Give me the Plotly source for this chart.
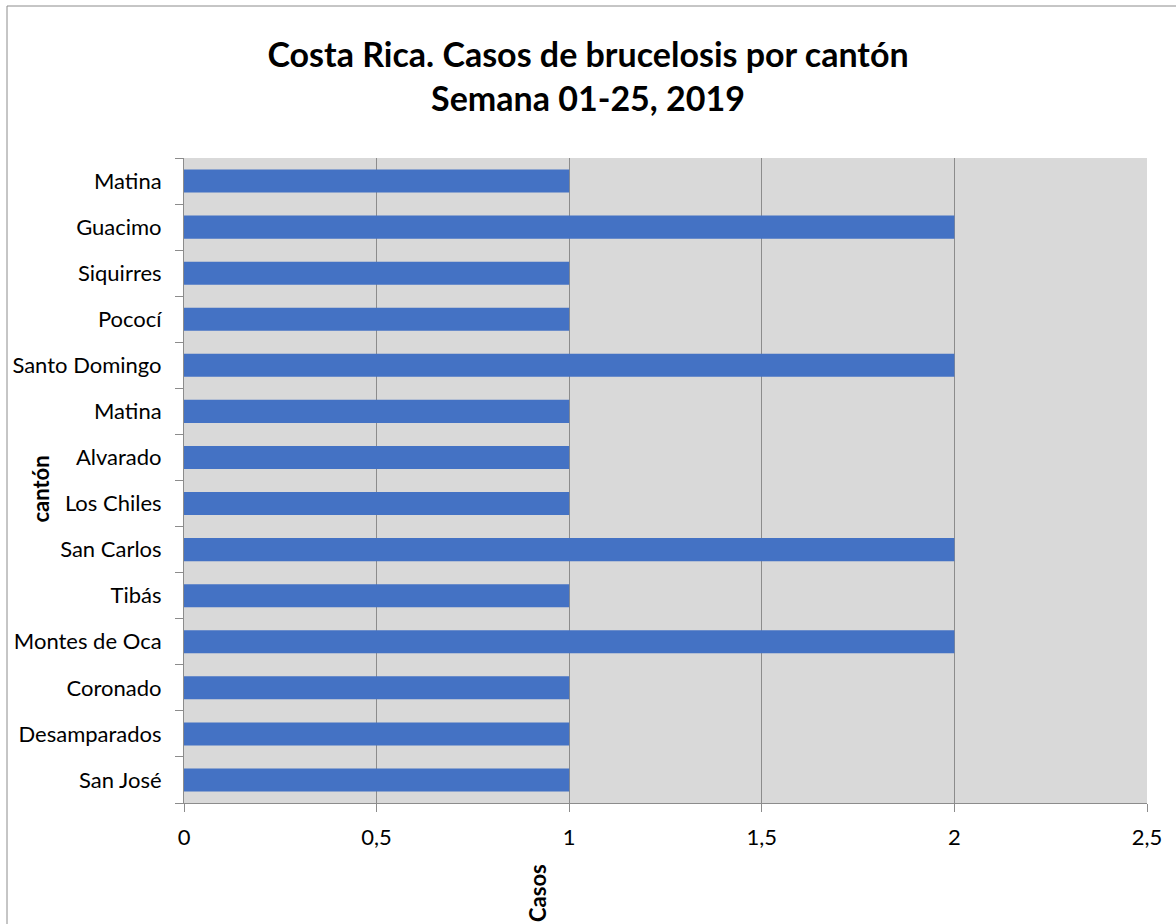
import plotly.graph_objects as go

cantones = ["San José", "Desamparados", "Coronado", "Montes de Oca", "Tibás", "San Carlos",
            "Los Chiles", "Alvarado", "Matina", "Santo Domingo", "Pococí", "Siquirres",
            "Guacimo", "Matina"]
casos = [1, 1, 1, 2, 1, 2, 1, 1, 1, 2, 1, 1, 2, 1]
x_ticks = [0, 0.5, 1, 1.5, 2, 2.5]
x_labels = ["0", "0,5", "1", "1,5", "2", "2,5"]

pos = list(range(len(cantones)))
FONT = "Lato, Carlito, Calibri, sans-serif"

fig = go.Figure(go.Bar(
    x=casos, y=pos, orientation="h", width=0.5,
    marker=dict(color="#4472C4", line=dict(width=0)),
))

pw = 1176 - 184 - 29
ph = 924 - 158 - 121

fig.update_layout(
    width=1176, height=924,
    margin=dict(l=184, r=29, t=158, b=121, autoexpand=False),
    paper_bgcolor="white", plot_bgcolor="#D9D9D9",
    font=dict(family=FONT, size=22, color="black"),
    showlegend=False,
    title=dict(text="<b>Costa Rica. Casos de brucelosis por cantón<br>Semana 01-25, 2019</b>",
               x=0.5, xanchor="center", y=1 - 67 / 924, yanchor="middle",
               font=dict(family=FONT, size=34, color="black")),
    xaxis=dict(range=[0, 2.5], tickvals=x_ticks, ticktext=x_labels,
               showgrid=True, gridcolor="#8C8C8C", gridwidth=1,
               showline=True, linecolor="#8C8C8C", linewidth=1,
               ticks="outside", ticklen=8, tickcolor="#8C8C8C",
               ticklabelstandoff=7, automargin=False,
               zeroline=False, tickfont=dict(size=22)),
    yaxis=dict(range=[-0.5, len(cantones) - 0.5], tickvals=pos, ticktext=cantones,
               showgrid=False, zeroline=False,
               showline=True, linecolor="#8C8C8C", linewidth=1,
               ticks="", ticklabelstandoff=17, automargin=False,
               minor=dict(tick0=-0.5, dtick=1, ticks="outside", ticklen=8,
                          tickcolor="#8C8C8C", showgrid=False),
               tickfont=dict(size=22)),
    annotations=[
        dict(text="<b>cantón</b>", x=(40 - 184) / pw, y=0.5 + (481 - 490) / ph,
             xref="paper", yref="paper", xanchor="center", yanchor="middle",
             showarrow=False, textangle=-90, font=dict(size=22)),
        dict(text="<b>Casos</b>", x=(537 - 184) / pw, y=(924 - 121 - 893) / ph,
             xref="paper", yref="paper", xanchor="center", yanchor="middle",
             showarrow=False, textangle=-90, font=dict(size=22)),
    ],
    shapes=[dict(type="rect", xref="paper", yref="paper",
                 x0=(7 - 184) / pw, x1=(1200 - 184) / pw,
                 y0=(924 - 121 - 960) / ph, y1=(924 - 121 - 6) / ph,
                 line=dict(color="#8C8C8C", width=1), fillcolor="rgba(0,0,0,0)")],
)

fig.write_html("out.html")
